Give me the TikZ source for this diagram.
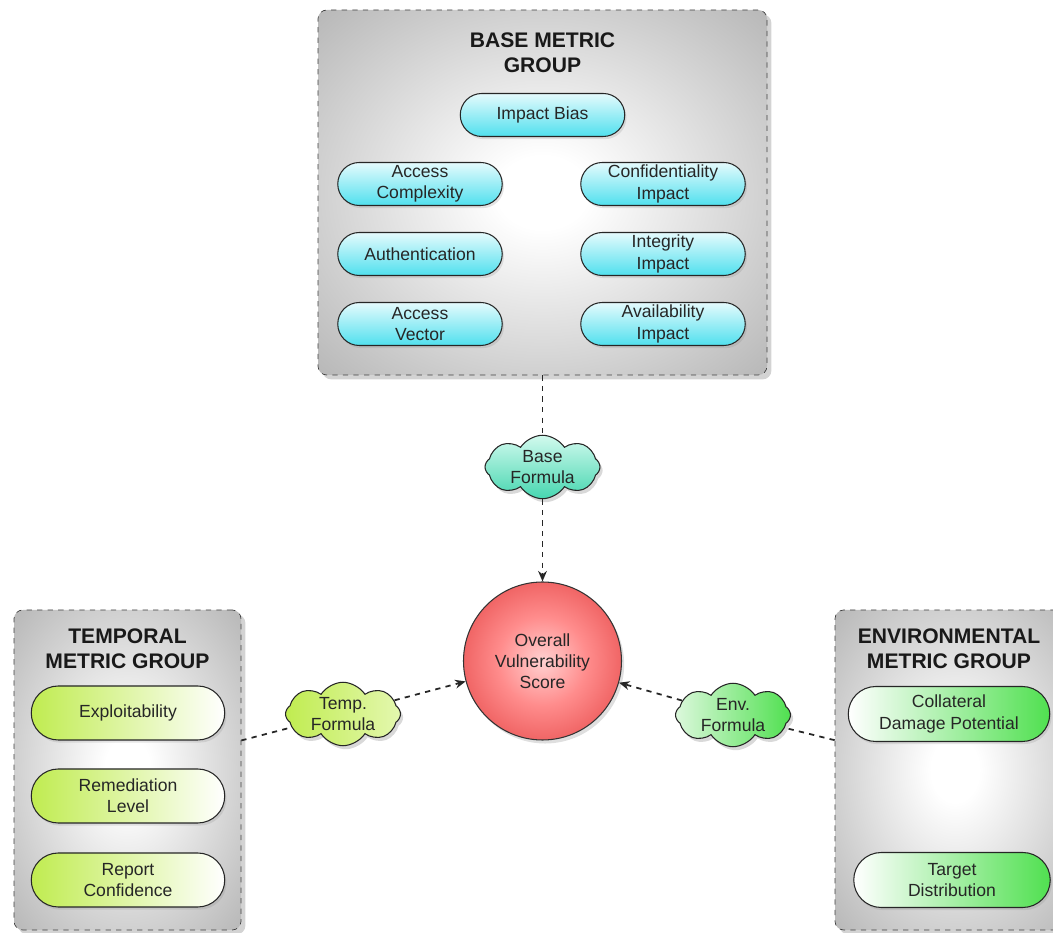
\documentclass[tikz,border=0pt]{standalone}
\usepackage{fontspec}
\setmainfont{Liberation Sans}
\usepackage{xcolor}
\usepackage{tikz}
\usetikzlibrary{shapes,shadows,arrows.meta,positioning}

\definecolor{pillcyan}{RGB}{80,224,238}
\definecolor{templime}{RGB}{192,236,80}
\definecolor{envgreen}{RGB}{80,224,80}
\definecolor{mintlight}{RGB}{210,250,238}
\definecolor{mintdark}{RGB}{70,214,176}
\definecolor{limelight}{RGB}{228,248,175}
\definecolor{greenlight}{RGB}{220,248,220}
\definecolor{scorered}{RGB}{236,70,70}

\pgfdeclareradialshading{groupfill}{\pgfpoint{0bp}{0bp}}{color(0bp)=(white); color(5bp)=(white); color(70bp)=(black!60)}
\pgfdeclareradialshading{scorefill}{\pgfpoint{0bp}{0bp}}{color(0bp)=(red!18!white); color(14bp)=(red!45!white); color(26bp)=(scorered!85!white); color(50bp)=(scorered)}

\begin{document}
\begin{tikzpicture}[
        group/.style={rectangle, draw=black!75, dashed, rounded corners=5pt, shading=groupfill,
            drop shadow={opacity=0.35, shadow xshift=2.5pt, shadow yshift=-2.5pt}},
        title/.style={font=\bfseries\fontsize{12}{14}\selectfont, align=center, text=black!90},
        pill/.style={rounded rectangle, draw=black!85, line width=0.6pt, align=center, inner sep=1pt,
            font=\fontsize{10}{12}\selectfont, text=black!85,
            drop shadow={opacity=0.2, shadow xshift=1pt, shadow yshift=-1.5pt}},
        basepill/.style={pill, minimum width=3.36cm, minimum height=0.86cm, top color=white!85!pillcyan, bottom color=pillcyan},
        temppill/.style={pill, minimum width=3.94cm, minimum height=1.08cm, left color=templime, right color=white},
        envpill/.style={pill, minimum width=4.1cm, minimum height=1.1cm, left color=white, right color=envgreen},
        formula/.style={cloud, cloud puffs=8, cloud puff arc=115, aspect=1.9, draw=black!85, line width=0.6pt,
            inner sep=0pt, minimum width=2.3cm, minimum height=1.26cm, align=center,
            font=\fontsize{10}{12}\selectfont, text=black!85,
            drop shadow={opacity=0.3, shadow xshift=1.5pt, shadow yshift=-2pt}},
        score/.style={circle, draw=black!80, line width=0.6pt, shading=scorefill, minimum size=3.16cm, inner sep=0pt,
            align=center, font=\fontsize{10}{12}\selectfont, text=black!85,
            drop shadow={opacity=0.25, shadow xshift=1.5pt, shadow yshift=-2pt}},
        arrow/.style={-{Stealth[length=6pt, width=5pt]}, dashed, line width=1pt, black!85},
        link/.style={dashed, line width=1pt, black!85}
    ]
    \useasboundingbox (0,0) rectangle (21.06,-18.66);

    % Base metric group
    \node[group, minimum width=8.98cm, minimum height=7.3cm] (base) at (10.85,-3.85) {};
    \node[title] (basetitle) at (10.85,-1.06) {BASE METRIC\\GROUP};
    \node[basepill] (impact) at (10.85,-2.3) {Impact Bias};
    \node[basepill] (complexity) at (8.4,-3.68) {Access\\Complexity};
    \node[basepill] (confidentiality) at (13.26,-3.68) {Confidentiality\\Impact};
    \node[basepill] (authentication) at (8.4,-5.08) {Authentication};
    \node[basepill] (integrity) at (13.26,-5.08) {Integrity\\Impact};
    \node[basepill] (vector) at (8.4,-6.48) {Access\\Vector};
    \node[basepill] (availability) at (13.26,-6.48) {Availability\\Impact};

    % Temporal metric group
    \node[group, minimum width=4.54cm, minimum height=6.4cm] (temporal) at (2.55,-15.4) {};
    \node[title] (temptitle) at (2.55,-12.98) {TEMPORAL\\METRIC GROUP};
    \node[temppill] (exploit) at (2.56,-14.26) {Exploitability};
    \node[temppill] (remediation) at (2.56,-15.92) {Remediation\\Level};
    \node[temppill] (confidence) at (2.56,-17.6) {Report\\Confidence};

    % Environmental metric group (runs off the right edge)
    \node[group, minimum width=4.8cm, minimum height=6.4cm] (environmental) at (19.1,-15.4) {};
    \node[title] (envtitle) at (18.98,-12.98) {ENVIRONMENTAL\\METRIC GROUP};
    \node[envpill] (collateral) at (18.98,-14.28) {Collateral\\Damage Potential};
    \node[envpill, minimum width=4.0cm] (target) at (19.04,-17.6) {Target\\Distribution};

    % Formulas and score
    \node[formula, top color=mintlight, bottom color=mintdark] (basef) at (10.85,-9.34) {Base\\Formula};
    \node[formula, left color=templime, right color=limelight] (tempf) at (6.86,-14.28) {Temp.\\Formula};
    \node[formula, left color=greenlight, right color=envgreen] (envf) at (14.66,-14.3) {Env.\\Formula};
    \node[score] (overall) at (10.85,-13.22) {Overall\\Vulnerability\\Score};

    % Connectors
    \draw[link] (base) -- (basef);
    \draw[arrow] (basef) -- (overall);
    \draw[link] (temporal) -- (tempf);
    \draw[arrow] (tempf) -- (overall);
    \draw[link] (environmental) -- (envf);
    \draw[arrow] (envf) -- (overall);

\end{tikzpicture}
\end{document}
